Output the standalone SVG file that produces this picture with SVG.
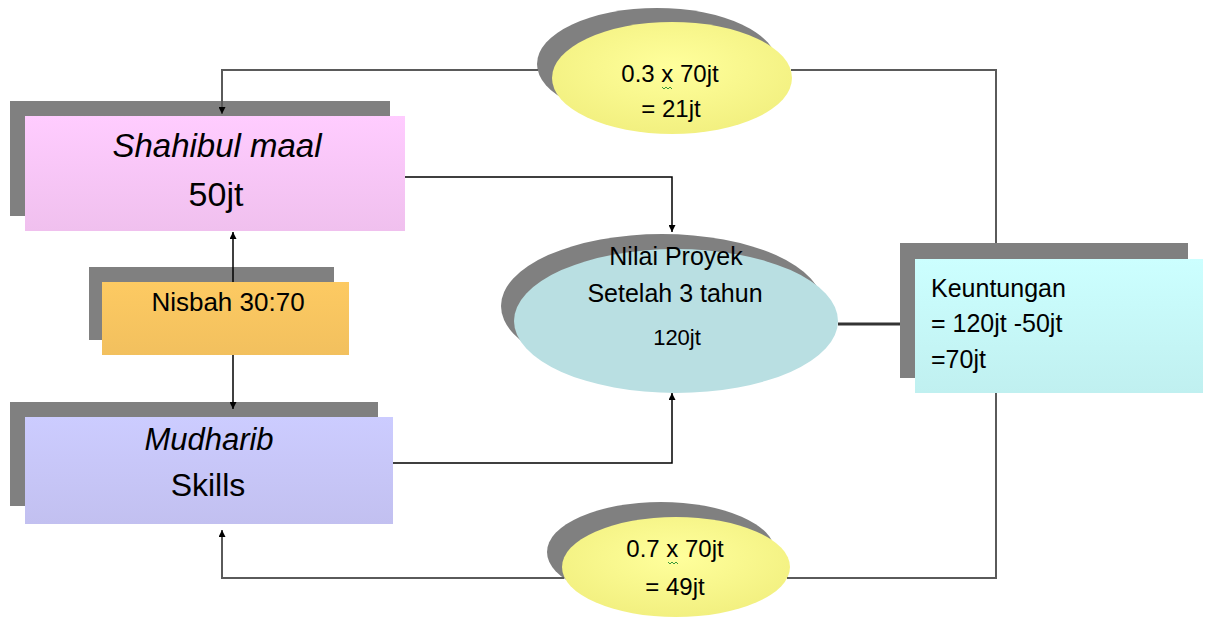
<svg xmlns="http://www.w3.org/2000/svg" width="1211" height="618" viewBox="0 0 1211 618">
<style>
.t{font-family:"Liberation Sans",Arial,sans-serif;fill:#000}
.c{text-anchor:middle}
.i{font-style:italic}
.sh{fill:#808080}
.ln{fill:none;stroke:#5a5a5a;stroke-width:2}
.ar{fill:none;stroke:#000;stroke-width:1.5}
.sq{fill:none;stroke:#3a9a3a;stroke-width:1}
</style>
<defs>
<linearGradient id="gPink" x1="0" y1="0" x2="0" y2="1"><stop offset="0" stop-color="#ffccff"/><stop offset="1" stop-color="#f0c0ee"/></linearGradient>
<linearGradient id="gOr" x1="0" y1="0" x2="0" y2="1"><stop offset="0" stop-color="#fdca62"/><stop offset="1" stop-color="#f2c05e"/></linearGradient>
<linearGradient id="gLav" x1="0" y1="0" x2="0" y2="1"><stop offset="0" stop-color="#ccccff"/><stop offset="1" stop-color="#c2c0f0"/></linearGradient>
<linearGradient id="gCy" x1="0" y1="0" x2="0" y2="1"><stop offset="0" stop-color="#ccffff"/><stop offset="1" stop-color="#c0f0f0"/></linearGradient>
<radialGradient id="gYel" cx="0.5" cy="0.4" r="0.6"><stop offset="0" stop-color="#ffff9c"/><stop offset="1" stop-color="#f2f080"/></radialGradient>
<marker id="ah" viewBox="0 0 10 10" refX="10" refY="5" markerWidth="7" markerHeight="7" markerUnits="userSpaceOnUse" orient="auto"><path d="M0,0 L10,5 L0,10 z" fill="#000"/></marker>
</defs>

<g id="node-shahibul">
<rect class="sh" x="10" y="101" width="380" height="115"/>
<rect x="25" y="116" width="380" height="115" fill="url(#gPink)"/>
<text class="t c i" x="217" y="157" font-size="33">Shahibul maal</text>
<text class="t c" x="216" y="206" font-size="34">50jt</text>
</g>

<g id="node-nisbah">
<rect class="sh" x="89" y="267" width="245" height="73"/>
<rect x="102" y="282" width="247" height="73" fill="url(#gOr)"/>
<text class="t c" x="228" y="311" font-size="26">Nisbah 30:70</text>
</g>

<g id="node-mudharib">
<rect class="sh" x="10" y="402" width="368" height="104"/>
<rect x="25" y="417" width="368" height="107" fill="url(#gLav)"/>
<text class="t c i" x="209" y="450" font-size="31">Mudharib</text>
<text class="t c" x="208" y="496" font-size="32">Skills</text>
</g>

<g id="node-top-share">
<ellipse class="sh" cx="657" cy="64" rx="120" ry="56"/>
<ellipse cx="672" cy="78" rx="120" ry="56" fill="url(#gYel)"/>
<text class="t c" x="670" y="82" font-size="24">0.3 x 70jt</text>
<path class="sq" d="M662,87 l2,2 l2,-2 l2,2 l2,-2 l2,2"/>
<text class="t c" x="671" y="117" font-size="24">= 21jt</text>
</g>

<g id="node-proyek">
<ellipse class="sh" cx="662" cy="306" rx="161" ry="72"/>
<ellipse cx="676" cy="321" rx="162" ry="72" fill="#b9dfe2"/>
<text class="t c" x="676" y="265" font-size="25">Nilai Proyek</text>
<text class="t c" x="675" y="302" font-size="25">Setelah 3 tahun</text>
<text class="t c" x="677" y="345" font-size="22">120jt</text>
</g>

<g id="node-keuntungan">
<rect class="sh" x="900" y="243" width="288" height="135"/>
<rect x="915" y="259" width="288" height="134" fill="url(#gCy)"/>
<text class="t" x="931" y="297" font-size="25">Keuntungan</text>
<text class="t" x="931" y="332" font-size="25">= 120jt -50jt</text>
<text class="t" x="931" y="368" font-size="25">=70jt</text>
</g>

<g id="node-bottom-share">
<ellipse class="sh" cx="661" cy="552" rx="114" ry="50"/>
<ellipse cx="676" cy="567" rx="114" ry="50" fill="url(#gYel)"/>
<text class="t c" x="675" y="557" font-size="24">0.7 x 70jt</text>
<path class="sq" d="M668,562 l2,2 l2,-2 l2,2 l2,-2 l2,2"/>
<text class="t c" x="675" y="595" font-size="24">= 49jt</text>
</g>

<g id="connectors">
<polyline class="ln" points="538,70 222,70 222,114" marker-end="url(#ah)"/>
<polyline class="ln" points="791,70 996,70 996,243"/>
<polyline class="ar" points="405,177 672,177 672,232" marker-end="url(#ah)"/>
<line class="ar" x1="233" y1="282" x2="233" y2="232" marker-end="url(#ah)"/>
<line class="ar" x1="233" y1="355" x2="233" y2="409" marker-end="url(#ah)"/>
<polyline class="ar" points="393,463 672,463 672,393" marker-end="url(#ah)"/>
<line x1="838" y1="324" x2="900" y2="324" stroke="#333" stroke-width="3"/>
<polyline class="ln" points="996,393 996,578 787,578"/>
<polyline class="ln" points="564,578 222,578 222,530" marker-end="url(#ah)"/>
</g>
</svg>
